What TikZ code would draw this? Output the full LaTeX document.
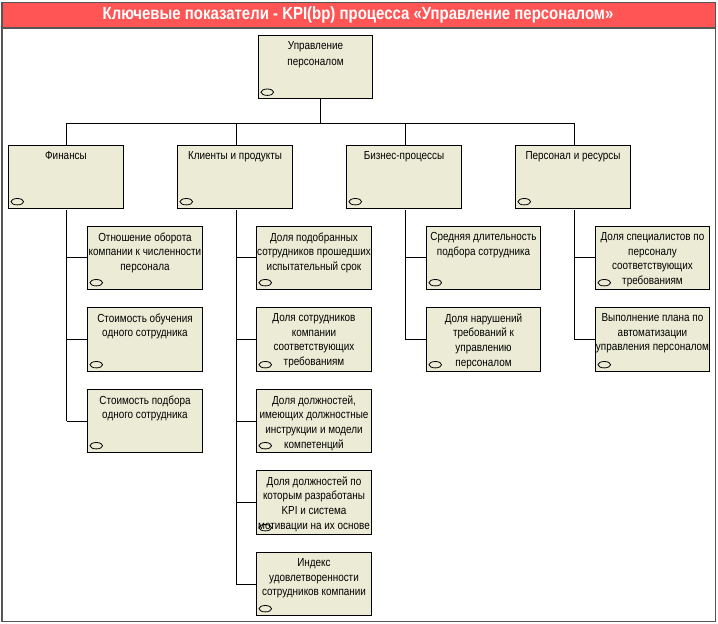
\documentclass[tikz,border=0pt]{standalone}
\usepackage{fontspec}
\setmainfont[FakeStretch=0.85]{Liberation Sans}
\newfontfamily\titlefont[FakeStretch=0.85]{Liberation Sans}
\usetikzlibrary{shapes.geometric}
\definecolor{boxfill}{HTML}{ECECD6}
\definecolor{banner}{HTML}{FF5555}
\definecolor{framegray}{HTML}{555555}
\tikzset{
  kbox/.style={draw=black,fill=boxfill,line width=0.75pt,inner sep=0pt,outer sep=0pt},
  ktext/.style={anchor=north,align=center,inner sep=0pt,font=\fontsize{8.75pt}{11pt}\selectfont,text=black},
  kmark/.style={draw=black,ellipse,line width=0.6pt,inner sep=0pt,minimum width=9.5pt,minimum height=4.8pt},
  link/.style={draw=black,line width=0.75pt},
}
% one box: optional width in px, name, left x, top y, height in px, caption
\newcommand{\kpibox}[6][115]{%
  \node[kbox,minimum width=#1*0.75pt,minimum height=#5*0.75pt,anchor=north west] (#2) at (#3,#4) {};
  \node[ktext] (#2-text) at ([yshift=-4.4pt]#2.north) {#6};
  \node[kmark] (#2-mark) at ([xshift=6.6pt,yshift=5.1pt]#2.south west) {};
}
\begin{document}
\begin{tikzpicture}[x=0.75pt,y=-0.75pt]
\useasboundingbox (0,0) rectangle (718,624);
\fill[white] (0,0) rectangle (718,624);
% frame and title band
\fill[banner] (2,3) rectangle (715,27.5);
\draw[framegray,line width=1.1pt] (2,2.5) rectangle (715.5,621.5);
\draw[framegray,line width=1.1pt] (2,28) -- (715.5,28);
\node[inner sep=0pt,text=white,font=\titlefont\bfseries\fontsize{13.2pt}{15pt}\selectfont] (title) at (358,15) {Ключевые показатели - KPI(bp) процесса «Управление персоналом»};

% top box
\kpibox[114]{root}{258.5}{35.5}{63.5}{Управление\\[1.2pt]персоналом}
% perspectives
\kpibox{fin}{8.5}{145.5}{63}{Финансы}
\kpibox{cli}{177.5}{145.5}{63}{Клиенты и продукты}
\kpibox{bus}{346.5}{145.5}{63}{Бизнес-процессы}
\kpibox{per}{515.5}{145.5}{63}{Персонал и ресурсы}
% finance indicators
\kpibox{f1}{87.5}{226.5}{63}{Отношение оборота\\компании к численности\\персонала}
\kpibox{f2}{87.5}{307.5}{64}{Стоимость обучения\\одного сотрудника}
\kpibox{f3}{87.5}{389.5}{63}{Стоимость подбора\\одного сотрудника}
% client indicators
\kpibox{c1}{256.5}{226.5}{63}{Доля подобранных\\сотрудников прошедших\\испытательный срок}
\kpibox{c2}{256.5}{307.5}{64}{Доля сотрудников\\компании\\соответствующих\\требованиям}
\kpibox{c3}{256.5}{389.5}{63}{Доля должностей,\\имеющих должностные\\инструкции и модели\\компетенций}
\kpibox{c4}{256.5}{470.5}{64}{Доля должностей по\\которым разработаны\\KPI и система\\мотивации на их основе}
\kpibox{c5}{256.5}{552.5}{63}{Индекс\\удовлетворенности\\сотрудников компании}
% process indicators
\kpibox[114]{b1}{426.5}{226.5}{63}{Средняя длительность\\подбора сотрудника}
\kpibox[114]{b2}{426.5}{307.5}{64}{Доля нарушений\\требований к\\управлению\\персоналом}
% staff indicators
\kpibox[114]{p1}{595.5}{226.5}{63}{Доля специалистов по\\персоналу\\соответствующих\\требованиям}
\kpibox[114]{p2}{595.5}{307.5}{64}{Выполнение плана по\\автоматизации\\управления персоналом}

% bus from the top box to the four perspectives
\coordinate (busline) at (321,124);
\coordinate (rootdrop) at (320.7,99);
\coordinate (findrop) at ([xshift=0.4pt]fin.south);
\coordinate (clidrop) at ([xshift=1.1pt]cli.south);
\coordinate (busdrop) at ([xshift=1pt]bus.south);
\coordinate (perdrop) at ([xshift=0.9pt]per.south);
\draw[link] (rootdrop) -- (rootdrop |- busline);
\draw[link] (findrop |- fin.north) -- (findrop |- busline) -- (perdrop |- busline) -- (perdrop |- per.north);
\draw[link] (clidrop |- cli.north) -- (clidrop |- busline);
\draw[link] (busdrop |- bus.north) -- (busdrop |- busline);

% trunks and branches, each entering its box just under mid-height
\tikzset{branch/.style={link,yshift=-0.5pt}}
\draw[link,shorten <=1.2pt] (findrop) -- (findrop |- f3.west);
\foreach \k in {f1,f2,f3} \draw[branch] (findrop |- \k.west) -- (\k.west);
\draw[link,shorten <=1.2pt] (clidrop) -- (clidrop |- c5.west);
\foreach \k in {c1,c2,c3,c4,c5} \draw[branch] (clidrop |- \k.west) -- (\k.west);
\draw[link,shorten <=1.2pt] (busdrop) -- (busdrop |- b2.west);
\foreach \k in {b1,b2} \draw[branch] (busdrop |- \k.west) -- (\k.west);
\draw[link,shorten <=1.2pt] (perdrop) -- (perdrop |- p2.west);
\foreach \k in {p1,p2} \draw[branch] (perdrop |- \k.west) -- (\k.west);
\end{tikzpicture}
\end{document}
